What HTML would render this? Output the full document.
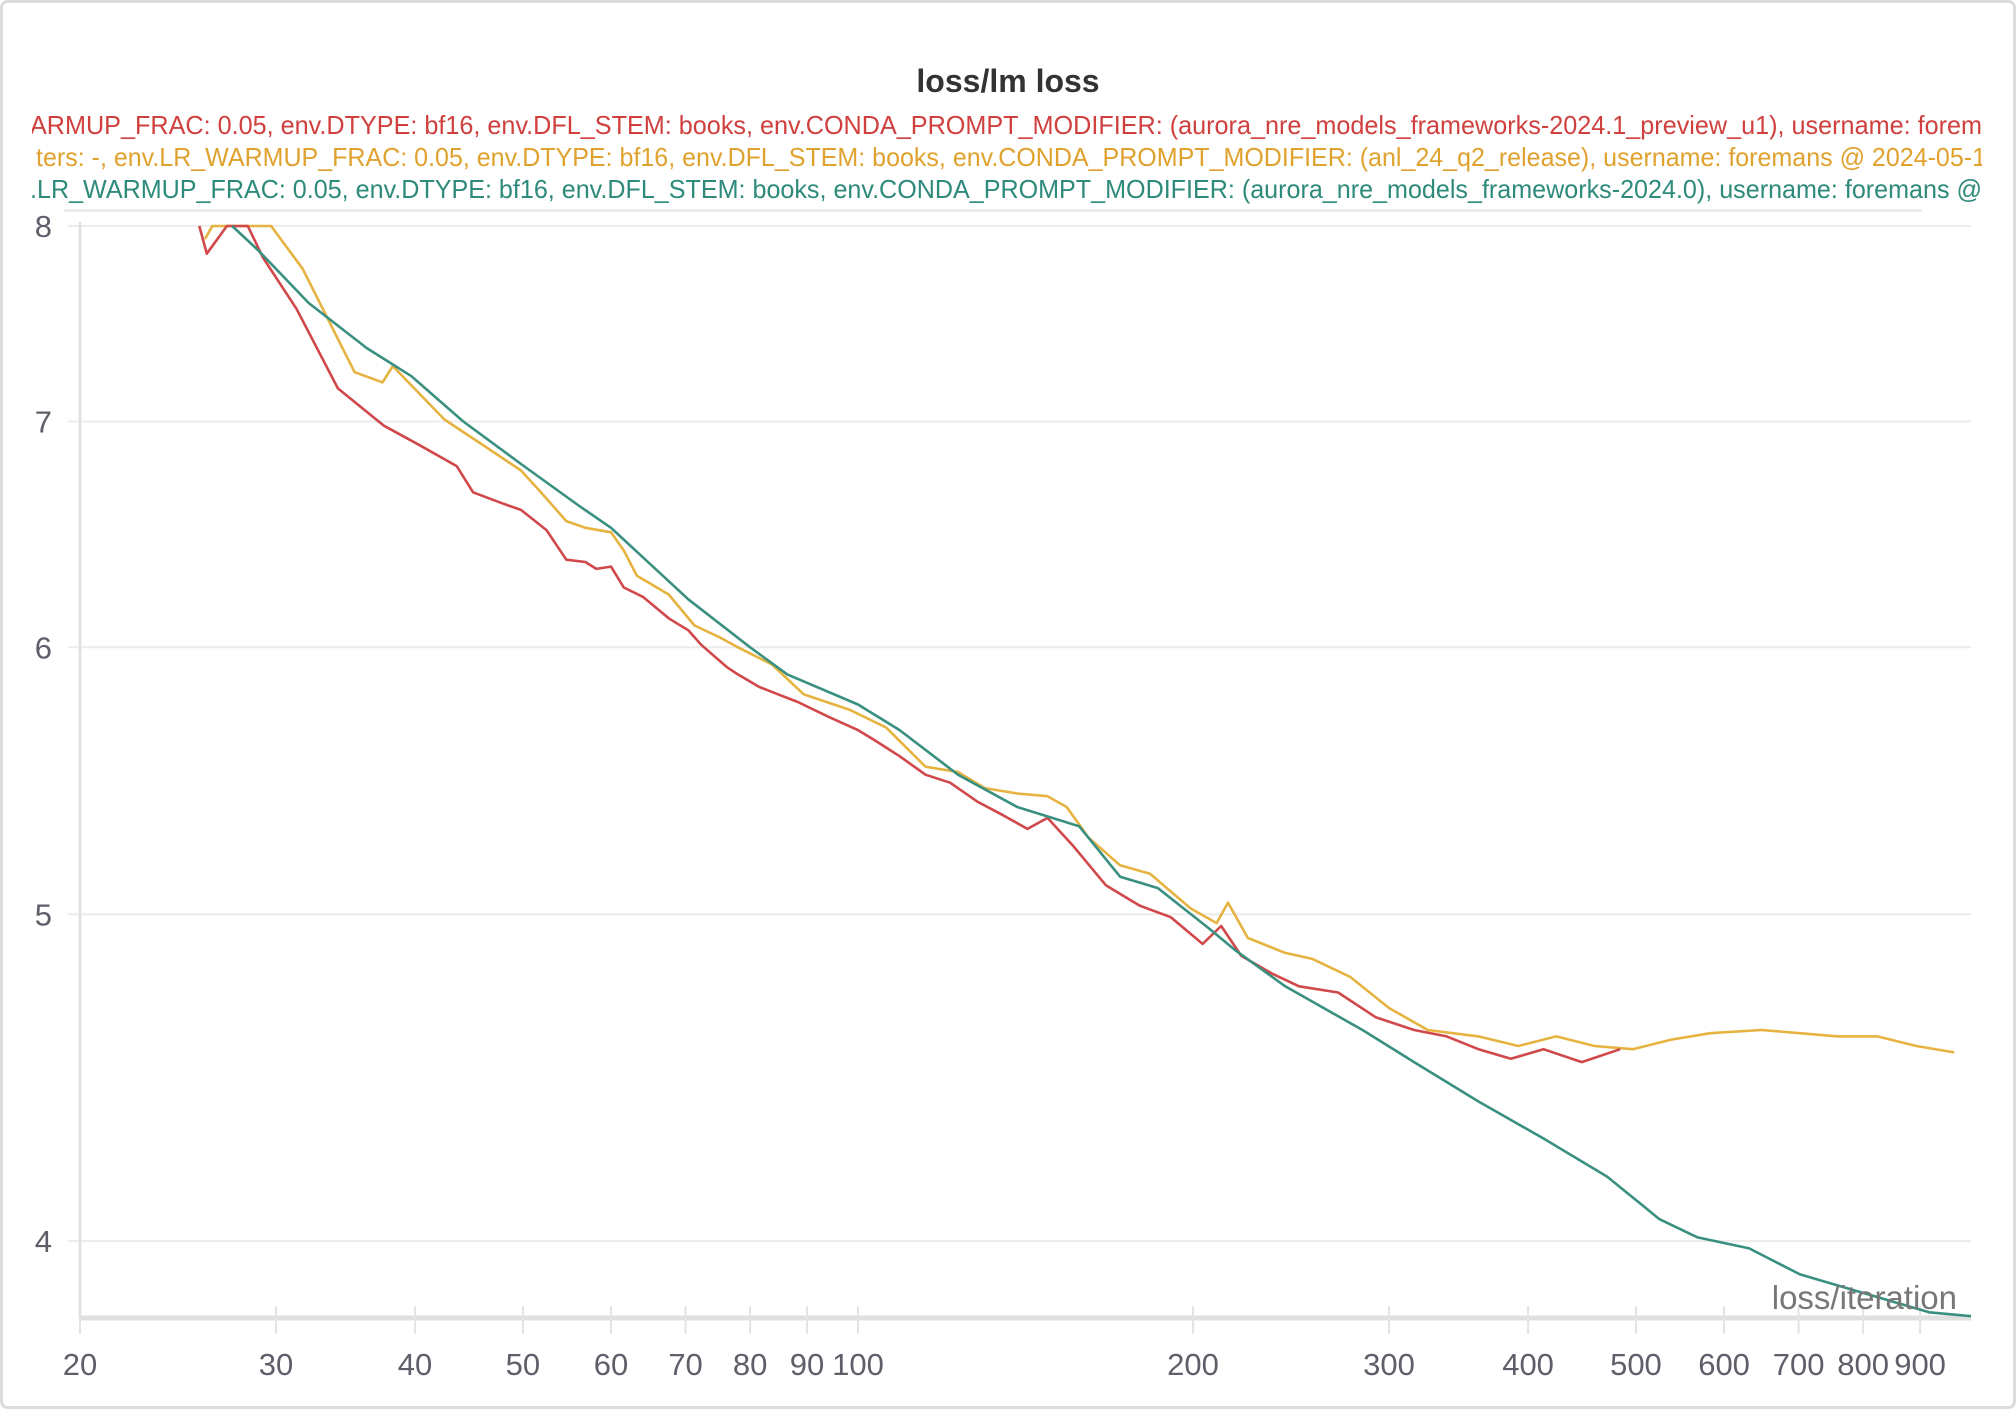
<!DOCTYPE html>
<html><head><meta charset="utf-8"><style>
html,body{margin:0;padding:0;background:#fff;}
svg{display:block;font-family:"Liberation Sans",sans-serif;}
</style></head><body>
<svg id="chart" width="2016" height="1410" viewBox="0 0 2016 1410" xmlns="http://www.w3.org/2000/svg">
<rect x="1.5" y="1.5" width="2013" height="1406" rx="6" fill="#fff" stroke="#dcdcdc" stroke-width="3"/>
<text x="1008" y="92" text-anchor="middle" font-size="32" font-weight="bold" fill="#333">loss/lm loss</text>
<defs><clipPath id="legclip"><rect x="32" y="100" width="1950" height="110"/></clipPath>
<clipPath id="plotclip"><rect x="80" y="215" width="1900" height="1105"/></clipPath></defs>
<g clip-path="url(#legclip)" font-size="26">
<text x="30" y="134" fill="#d0403e" textLength="1952" lengthAdjust="spacingAndGlyphs">ARMUP_FRAC: 0.05, env.DTYPE: bf16, env.DFL_STEM: books, env.CONDA_PROMPT_MODIFIER: (aurora_nre_models_frameworks-2024.1_preview_u1), username: forem</text>
<text x="36" y="166" fill="#e0a22e" textLength="1950" lengthAdjust="spacingAndGlyphs">ters: -, env.LR_WARMUP_FRAC: 0.05, env.DTYPE: bf16, env.DFL_STEM: books, env.CONDA_PROMPT_MODIFIER: (anl_24_q2_release), username: foremans @ 2024-05-1</text>
<text x="30" y="198" fill="#2e8a7a" textLength="1952" lengthAdjust="spacingAndGlyphs">.LR_WARMUP_FRAC: 0.05, env.DTYPE: bf16, env.DFL_STEM: books, env.CONDA_PROMPT_MODIFIER: (aurora_nre_models_frameworks-2024.0), username: foremans @</text>
</g>
<rect x="64" y="209" width="1858" height="3" fill="#ececec"/>
<g id="grid"></g>
<g id="axes"></g>
<g id="series" clip-path="url(#plotclip)"></g>
<text x="1957" y="1309" text-anchor="end" font-size="33" fill="#777">loss/iteration</text>
</svg>
<script>
const yTicks = [4, 5, 6, 7, 8];
const xTicks = [20, 30, 40, 50, 60, 70, 80, 90, 100, 200, 300, 400, 500, 600, 700, 800, 900];
const xTickLabels = ["20","30","40","50","60","70","80","90","100","200","300","400","500","600","700","800","900"];

const redIter = [25.6,26.0,27.1,28.3,29.2,31.3,34.1,37.5,40.3,43.6,45.1,47.9,49.8,52.5,54.7,56.9,58.2,60,61.6,64.1,67.6,70.4,72.3,76.2,78,81.5,84.8,88.3,94.3,100,103.6,109,115,121,128,135,142,148,156,167,179,191,204,212,221,236,249,270,292,316,338,361,386,413,447,484];
const redLoss = [8.0,7.85,8.0,8.0,7.83,7.56,7.16,6.98,6.89,6.79,6.67,6.62,6.59,6.50,6.37,6.36,6.33,6.34,6.25,6.21,6.12,6.07,6.01,5.92,5.89,5.84,5.81,5.78,5.72,5.67,5.63,5.57,5.50,5.47,5.40,5.35,5.30,5.34,5.24,5.10,5.03,4.99,4.90,4.96,4.86,4.80,4.76,4.74,4.66,4.62,4.60,4.56,4.53,4.56,4.52,4.56];

const yellowIter = [25.9,26.3,29.7,31.7,35.3,37.4,38.2,42.5,46.6,49.8,51.9,54.7,56.9,60,61.6,63.3,67.6,71.3,75.2,78,83.7,89.4,98.2,106,115,123,130,139,148,154,161,172,183,199,210,215,224,242,256,277,300,325,361,392,424,459,497,538,583,648,702,760,824,893,966];
const yellowLoss = [7.93,8.0,8.0,7.77,7.24,7.19,7.27,7.01,6.87,6.77,6.67,6.54,6.51,6.49,6.41,6.30,6.22,6.09,6.04,6.0,5.93,5.81,5.75,5.68,5.53,5.51,5.45,5.43,5.42,5.38,5.27,5.17,5.14,5.02,4.97,5.04,4.92,4.87,4.85,4.79,4.69,4.62,4.60,4.57,4.60,4.57,4.56,4.59,4.61,4.62,4.61,4.60,4.60,4.57,4.55];

const tealIter = [27.4,28.9,32.1,36.2,39.7,44.2,49.8,56.1,60,70.4,80,86.4,100,109,123,139,158,172,186,207,218,242,284,316,361,413,471,525,568,632,702,802,917,1000];
const tealLoss = [8.0,7.87,7.59,7.36,7.22,7.0,6.80,6.61,6.51,6.20,6.0,5.89,5.77,5.67,5.50,5.38,5.31,5.13,5.09,4.95,4.88,4.76,4.62,4.52,4.40,4.29,4.18,4.06,4.01,3.98,3.91,3.86,3.81,3.80];

const X0 = 80, X1 = 1971, Y8 = 226, PXLN = 1464.4, YBOT = 1318;
function xScale(v){ return X0 + (Math.log10(v) - Math.log10(20)) / Math.log10(50) * (X1 - X0); }
function yScale(v){ return Y8 + Math.log(8 / v) * PXLN; }
const NS = "http://www.w3.org/2000/svg";
function mk(tag, attrs, parent){ const e = document.createElementNS(NS, tag); for (const k in attrs) e.setAttribute(k, attrs[k]); parent.appendChild(e); return e; }

const grid = document.getElementById('grid');
const axes = document.getElementById('axes');
yTicks.forEach(t => {
  const y = yScale(t);
  const l = mk('line', {x1: 68, x2: 1971, y1: y, y2: y, stroke: '#ececec', 'stroke-width': 2}, grid);
  
  
  const tx = mk('text', {x: 52, y: y + 11, 'text-anchor': 'end', 'font-size': 31, fill: '#5f5f6a'}, axes);
  tx.textContent = t;
  
  
});
const ya = mk('line', {x1: 80, x2: 80, y1: 222, y2: YBOT, stroke: '#e2e2e2', 'stroke-width': 3}, axes);


const xa = mk('line', {x1: 80, x2: 1971, y1: YBOT, y2: YBOT, stroke: '#e0e0e0', 'stroke-width': 5}, axes);


xTicks.forEach((t, i) => {
  const x = xScale(t);
  const tk = mk('line', {x1: x, x2: x, y1: 1306, y2: 1334, stroke: '#e4e4e4', 'stroke-width': 2}, axes);
  
  
  const tx = mk('text', {x: x, y: 1375, 'text-anchor': 'middle', 'font-size': 31, fill: '#5f5f6a'}, axes);
  tx.textContent = xTickLabels[i];
  
  
});

const series = document.getElementById('series');
function drawLine(iters, losses, color, name){
  const d = iters.map((it, i) => (i ? 'L' : 'M') + xScale(it).toFixed(1) + ' ' + yScale(losses[i]).toFixed(1)).join(' ');
  const p = mk('path', {d: d, fill: 'none', stroke: color, 'stroke-width': 2.6, 'stroke-linejoin': 'round'}, series);
  
  
}
drawLine(yellowIter, yellowLoss, '#e6b340', 'yellow-series-line');
drawLine(redIter, redLoss, '#d0484a', 'red-series-line');
drawLine(tealIter, tealLoss, '#3a9080', 'teal-series-line');
</script>
</body></html>
